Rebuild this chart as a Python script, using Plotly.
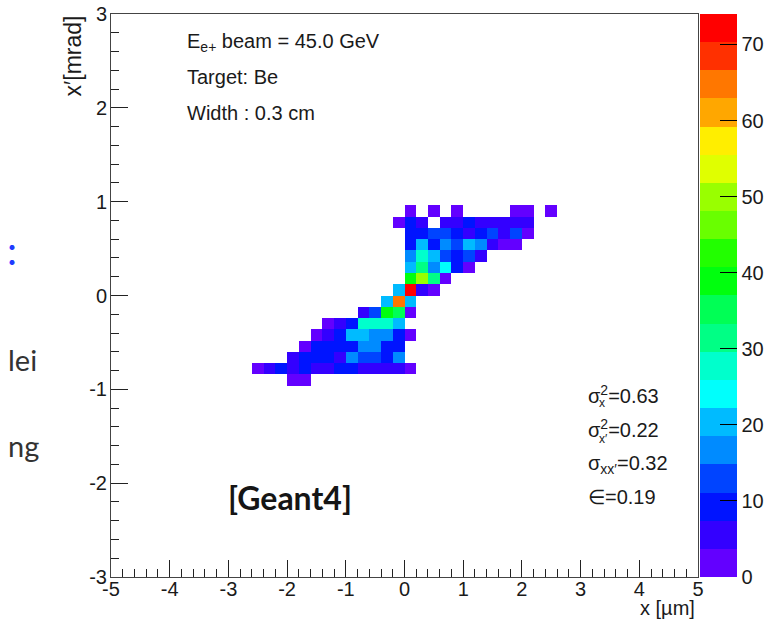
import colorsys
import numpy as np
import plotly.graph_objects as go

# ---------------- data (non-empty bins: bin centres and contents) ----------------
cell_x = [
    0.1, 0.5, 0.9, 1.9, 2.1, 2.5,
    -0.1, 0.1, 0.3, 0.7, 0.9, 1.1, 1.3, 1.5, 1.7, 1.9, 2.1,
    0.1, 0.3, 0.5, 0.7, 0.9, 1.1, 1.3, 1.5, 1.7, 1.9, 2.1,
    0.1, 0.3, 0.5, 0.7, 0.9, 1.1, 1.3, 1.5, 1.7, 1.9,
    0.1, 0.3, 0.5, 0.7, 0.9, 1.1, 1.3,
    0.1, 0.3, 0.5, 0.7, 0.9, 1.1,
    0.1, 0.3, 0.5, 0.7,
    -0.1, 0.1, 0.3, 0.5,
    -0.3, -0.1, 0.1,
    -0.7, -0.5, -0.3, -0.1, 0.1,
    -1.3, -1.1, -0.9, -0.7, -0.5, -0.3, -0.1,
    -1.5, -1.3, -1.1, -0.9, -0.7, -0.5, -0.3, -0.1, 0.1,
    -1.7, -1.5, -1.3, -1.1, -0.9, -0.7, -0.5, -0.3, -0.1,
    -1.9, -1.7, -1.5, -1.3, -1.1, -0.9, -0.7, -0.5, -0.3, -0.1,
    -2.5, -2.3, -2.1, -1.9, -1.7, -1.5, -1.3, -1.1, -0.9, -0.7, -0.5, -0.3, -0.1, 0.1,
    -1.9, -1.7,
]
cell_y = (
    [0.90] * 6 + [0.78] * 11 + [0.66] * 11 + [0.54] * 10 + [0.42] * 7 + [0.30] * 6
    + [0.18] * 4 + [0.06] * 4 + [-0.06] * 3 + [-0.18] * 5 + [-0.30] * 7 + [-0.42] * 9
    + [-0.54] * 9 + [-0.66] * 10 + [-0.78] * 14 + [-0.90] * 2
)
cell_counts = [
    2, 2, 2, 2, 2, 2,
    2, 9, 5, 5, 5, 9, 5, 5, 5, 5, 5,
    9, 9, 13, 13, 9, 5, 9, 13, 5, 13, 2,
    9, 20, 9, 17, 13, 20, 17, 5, 2, 2,
    17, 28, 20, 13, 9, 13, 5,
    20, 31, 17, 24, 9, 2,
    39, 50, 31, 2,
    20, 74, 5, 2,
    20, 64, 20,
    5, 13, 39, 35, 2,
    2, 5, 9, 28, 28, 28, 20,
    2, 5, 9, 20, 20, 17, 17, 9, 2,
    2, 9, 9, 9, 9, 17, 17, 9, 9,
    5, 9, 9, 9, 5, 17, 13, 13, 9, 17,
    2, 5, 9, 5, 9, 5, 5, 9, 9, 5, 5, 5, 5, 2,
    2, 2,
]

x_tick_vals = [-5, -4, -3, -2, -1, 0, 1, 2, 3, 4, 5]
x_tick_text = ["-5", "-4", "-3", "-2", "-1", "0", "1", "2", "3", "4", "5"]
y_tick_vals = [-3, -2, -1, 0, 1, 2, 3]
y_tick_text = ["-3", "-2", "-1", "0", "1", "2", "3"]
z_tick_vals = [0, 10, 20, 30, 40, 50, 60, 70]

# ---------------- histogram grid ----------------
x_edges = np.linspace(-5, 5, 51)
y_edges = np.linspace(-3, 3, 51)
Z, _, _ = np.histogram2d(cell_y, cell_x, bins=[y_edges, x_edges], weights=cell_counts)
Z = np.where(Z > 0, Z, np.nan)
x_centres = 0.5 * (x_edges[:-1] + x_edges[1:])
y_centres = 0.5 * (y_edges[:-1] + y_edges[1:])

ZMAX = 74.0
NCONT = 20
NCOL = 50


def pretty_colour(i):
    if i >= NCOL - 1:
        return "rgb(255,0,0)"
    hue = 280 - (i + 1) * (280 / NCOL)
    r, g, b = colorsys.hls_to_rgb(hue / 360.0, 0.5, 1.0)
    return "rgb(%d,%d,%d)" % (round(r * 255), round(g * 255), round(b * 255))


colorscale = []
for k in range(NCONT):
    c = pretty_colour(int((k + 0.99) * NCOL / NCONT))
    colorscale.append([k / NCONT, c])
    colorscale.append([(k + 1) / NCONT, c])

# ---------------- geometry (screen pixels) ----------------
W, H = 769, 630
L, R, T, B = 111, 698, 14, 577


def px(x):
    return (x - L) / (R - L)


def py(y):
    return (B - y) / (B - T)


FONT = "Liberation Sans, Arial, sans-serif"
TXT = "#1a1a1a"

fig = go.Figure()
fig.add_trace(go.Heatmap(
    z=Z, x=x_centres, y=y_centres,
    zmin=0, zmax=ZMAX, colorscale=colorscale, zsmooth=False,
    hoverongaps=False,
    colorbar=dict(
        x=px(700), xanchor="left", xpad=0, y=0.5, yanchor="middle", ypad=0,
        len=1, lenmode="fraction", thickness=37, thicknessmode="pixels",
        outlinewidth=0, tickmode="array", tickvals=z_tick_vals,
        ticks="inside", ticklen=17, tickcolor="black", tickwidth=1,
        tickfont=dict(family=FONT, size=20, color=TXT),
    ),
))

axis_common = dict(
    showgrid=False, zeroline=False, showline=True, mirror=True,
    linecolor="#444", linewidth=1,
    ticks="inside", ticklen=17, tickcolor="#222", tickwidth=1,
    tickfont=dict(family=FONT, size=20, color=TXT),
    minor=dict(ticks="inside", ticklen=8, dtick=0.2, tick0=0, tickcolor="#222", showgrid=False),
    tickmode="array",
)
fig.update_xaxes(range=[-5, 5], tickvals=x_tick_vals, ticktext=x_tick_text,
                 ticklabelstandoff=-6, **axis_common)
fig.update_yaxes(range=[-3, 3], tickvals=y_tick_vals, ticktext=y_tick_text,
                 ticklabelstandoff=-1, **axis_common)


def ann(text, x, y, xanchor="left", yanchor="middle", size=20, family=FONT, color=TXT, angle=0):
    fig.add_annotation(text=text, xref="paper", yref="paper", x=px(x), y=py(y),
                       xanchor=xanchor, yanchor=yanchor, showarrow=False, textangle=angle,
                       font=dict(family=family, size=size, color=color))


ann("E<sub>e+</sub> beam = 45.0 GeV", 185, 42)
ann("Target: Be", 185, 77)
ann("Width : 0.3 cm", 185, 113)

ann("σ<sup>2</sup>=0.63", 586, 394)
ann("x", 597, 403, size=12)
ann("σ<sup>2</sup>=0.22", 586, 429)
ann("x′", 597, 439, size=12)
ann("σ<sub>xx′</sub>=0.32", 586, 464)
ann("∈=0.19", 586, 497)

ann("<b>[Geant4]</b>", 290, 497, xanchor="center", size=32, family="Lato, sans-serif", color="#151515")

ann("x′[mrad]", 72, 14, xanchor="center", yanchor="top", size=23, angle=-90)
ann("x [µm]", 697, 608, xanchor="right")

ann("lei", 6, 359, size=29, family="Lato, sans-serif", color="#333")
ann("ng", 6, 445, size=29, family="Lato, sans-serif", color="#333")
ann(":", 5, 250, size=40, family="Lato, sans-serif", color="#1f3cff")

fig.update_layout(
    width=W, height=H,
    margin=dict(l=L, r=W - R, t=T, b=H - B, pad=0, autoexpand=False),
    paper_bgcolor="white", plot_bgcolor="white",
    showlegend=False,
)

fig.write_html(
    "out.html",
    config={"displayModeBar": False},
    post_script="document.body.style.margin='0px';document.body.style.overflow='hidden';",
)
